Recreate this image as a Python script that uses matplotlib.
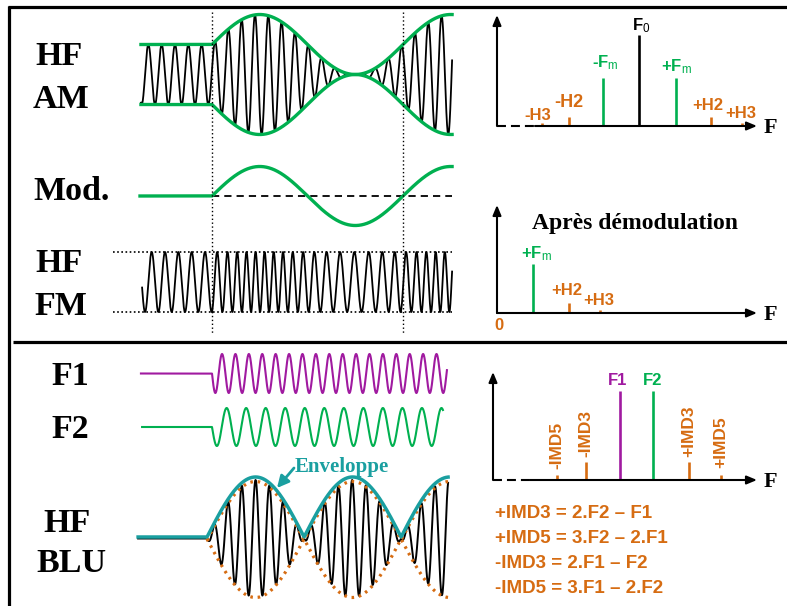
import numpy as np
import matplotlib
matplotlib.use("Agg")
import matplotlib.pyplot as plt

plt.rcParams['mathtext.fontset'] = 'custom'
plt.rcParams['mathtext.rm'] = 'Liberation Sans'
plt.rcParams['mathtext.it'] = 'Liberation Sans:italic'
plt.rcParams['mathtext.bf'] = 'Liberation Sans:bold'

# ---------------- DATA ----------------
# Row labels (left column)
row_labels = ["HF", "AM", "Mod.", "HF", "FM", "F1", "F2", "HF", "BLU"]

# Waveform parameters (time in modulation periods)
carrier_cycles = 14.33      # carrier cycles per modulation period
am_index = 1.0              # AM modulation depth
fm_offset = 0.20            # FM mean frequency shift (relative)
fm_dev = 0.28               # FM deviation (relative)
f1_cycles = 14.25           # tone F1 cycles per period
f2_cycles = 9.78            # tone F2 cycles per period
blu_cycles = 13.84          # BLU carrier cycles per period
blu_lobe = 0.508            # BLU envelope lobe length (periods)
blu_start = -0.026          # BLU signal start
am_t = [-0.372, 1.257]
mod_t = [-0.377, 1.257]
fm_t = [-0.366, 1.257]
fm_guide_t = [-0.518, 1.257]
f1_t = [-0.372, 1.230]
f2_t = [-0.366, 1.209]
blu_t = [-0.387, 1.236]
marker_t = [0.0, 1.0]       # dotted vertical markers

# AM spectrum (frequency in Fm units around F0, amplitude relative to F0)
am_labels = ["-H3", "-H2", "-F$_\\mathrm{m}$", "F$_\\mathrm{0}$", "+F$_\\mathrm{m}$", "+H2", "+H3"]
am_freq = [-2.66, -1.92, -0.99, 0.0, 1.01, 1.97, 2.82]
am_amp = [0.035, 0.10, 0.53, 1.00, 0.53, 0.10, 0.035]

# Spectrum after demodulation (frequency in Fm units)
dm_labels = ["+F$_\\mathrm{m}$", "+H2", "+H3"]
dm_freq = [1.0, 2.0, 2.86]
dm_amp = [0.54, 0.11, 0.033]

# Two-tone (BLU) spectrum (frequency in units of F2-F1, F1 = 0)
imd_labels = ["-IMD5", "-IMD3", "F1", "F2", "+IMD3", "+IMD5"]
imd_freq = [-1.91, -1.03, 0.0, 1.0, 2.09, 3.06]
imd_amp = [0.055, 0.20, 0.98, 0.98, 0.20, 0.055]

equations = ["+IMD3 = 2.F2 \u2013 F1", "+IMD5 = 3.F2 \u2013 2.F1",
             "-IMD3 = 2.F1 \u2013 F2", "-IMD5 = 3.F1 \u2013 2.F2"]

# ---------------- STYLE / LAYOUT ----------------
GREEN = '#00b050'
ORANGE = '#d66c12'
PURPLE = '#a01aa0'
TEAL = '#1a9fa0'
SERIF = 'Liberation Serif'
SANS = 'Liberation Sans'

W, H = 787, 606
fig = plt.figure(figsize=(W / 100, H / 100), dpi=100)
ax = fig.add_axes([0, 0, 1, 1])
ax.set_xlim(0, W)
ax.set_ylim(H, 0)
ax.axis('off')

# frame
ax.plot([8, W], [7, 7], color='k', lw=2.3, solid_capstyle='butt')
ax.plot([9, 9], [6, H], color='k', lw=2.3, solid_capstyle='butt')
ax.plot([13, W], [341.5, 341.5], color='k', lw=2.3, solid_capstyle='butt')

# left labels
label_xy = [(59, 65), (61, 108), (72, 200), (59, 272), (61, 315),
            (70, 385), (70, 438), (67, 532), (71, 572)]
for txt, (x, y) in zip(row_labels, label_xy):
    ax.text(x, y, txt, ha='center', va='baseline', family=SERIF,
            weight='bold', fontsize=24.5, color='k')

# ---------------- WAVEFORMS ----------------
T0_PX, T_PX = 212, 191
axw = fig.add_axes([0, 0, 1, 1])
axw.set_xlim(-T0_PX / T_PX, (W - T0_PX) / T_PX)
axw.set_ylim(H, 0)
axw.axis('off')
axw.patch.set_alpha(0)

N = 5000
# AM
am_c, am_a, am_phase = 74.5, 30.0, 0.0157
t = np.linspace(am_t[0], am_t[1], N)
env = np.where(t < 0, 1.0, 1.0 + am_index * np.sin(2 * np.pi * t))
car = np.cos(2 * np.pi * carrier_cycles * (t - am_phase))
axw.plot(t, am_c - am_a * env * car, color='k', lw=1.3)
axw.plot(t, am_c - am_a * env, color=GREEN, lw=2.4)
axw.plot(t, am_c + am_a * env, color=GREEN, lw=2.4)

# Modulating signal
mod_c, mod_a = 196.0, 29.5
t = np.linspace(mod_t[0], mod_t[1], N)
axw.plot([0, mod_t[1]], [mod_c, mod_c], color='k', lw=1.3, ls=(0, (4, 2.8)))
axw.plot(t, mod_c - mod_a * np.where(t < 0, 0.0, np.sin(2 * np.pi * t)),
         color=GREEN, lw=2.4)

# FM
fm_c, fm_a, fm_tp = 282.0, 30.0, -0.0366
t = np.linspace(fm_t[0], fm_t[1], N)
phi = 2 * np.pi * carrier_cycles * (t - fm_tp)
tp = np.clip(t, 0, None)
phi = phi + 2 * np.pi * carrier_cycles * (fm_offset * tp +
                                          fm_dev * (1 - np.cos(2 * np.pi * tp)) / (2 * np.pi))
axw.plot(t, fm_c - fm_a * np.cos(phi), color='k', lw=1.3)
for yy in (fm_c - fm_a, fm_c + fm_a):
    axw.plot(fm_guide_t, [yy, yy], color='k', lw=1.2, ls=(0, (1, 1.5)))

# markers
for tm in marker_t:
    axw.plot([tm, tm], [12, 333], color='k', lw=1.0, ls=(0, (1, 1.8)))

# F1 / F2
f1_c, f1_a = 373.5, 19.5
t = np.linspace(f1_t[0], f1_t[1], N)
axw.plot(t, f1_c + f1_a * np.where(t < 0, 0, np.sin(2 * np.pi * f1_cycles * t)),
         color=PURPLE, lw=1.5)
f2_c, f2_a = 427.0, 19.0
t = np.linspace(f2_t[0], f2_t[1], N)
axw.plot(t, f2_c + f2_a * np.where(t < 0, 0, np.sin(2 * np.pi * f2_cycles * t)),
         color=GREEN, lw=1.5)

# BLU
blu_c, blu_a = 538.0, 58.5
t = np.linspace(blu_t[0], blu_t[1], N)
u = t - blu_start
s = np.where(u < 0, 0.0, np.abs(np.sin(np.pi * u / blu_lobe)))
car = np.cos(2 * np.pi * blu_cycles * (t - (blu_start + blu_lobe / 2)))
axw.plot(t, blu_c + 0.5 - blu_a * s * car, color='k', lw=1.4)
m = u >= 0
axw.plot(t[m], blu_c - blu_a * s[m] + 2, color=ORANGE, lw=2.3, ls=(0, (0.8, 1.5)))
axw.plot(t[m], blu_c + blu_a * s[m] + 1, color=ORANGE, lw=2.3, ls=(0, (0.8, 1.5)))
axw.plot(t, blu_c - 1 - (blu_a + 1.5) * s, color=TEAL, lw=2.5)

# Enveloppe label
ax.text(295, 472, "Enveloppe", family=SERIF, weight='bold', fontsize=15,
        color=TEAL, ha='left', va='baseline')
ax.annotate('', xy=(277, 488), xytext=(294, 468),
            arrowprops=dict(arrowstyle='-|>,head_length=0.7,head_width=0.35',
                            color=TEAL, lw=2.0, shrinkA=0, shrinkB=0))


# ---------------- SPECTRA ----------------
def panel(x0, x1, ytop, ybot, xref, unit, amp_px, dash_px=None):
    a = fig.add_axes([x0 / W, 1 - ybot / H, (x1 - x0) / W, (ybot - ytop) / H])
    a.set_xlim((x0 - xref) / unit, (x1 - xref) / unit)
    a.set_ylim(0, (ybot - ytop) / amp_px)
    a.axis('off')
    a.patch.set_alpha(0)
    frac = 0.0
    if dash_px is not None:
        frac = (dash_px - x0) / (x1 - x0)
        a.plot([0, frac], [0, 0], transform=a.transAxes, color='k', lw=1.5,
               ls=(0, (4.3, 2.4)), clip_on=False)
    ap = dict(arrowstyle='-|>,head_length=0.6,head_width=0.25', color='k',
              lw=1.5, shrinkA=0, shrinkB=0)
    a.annotate('', xy=(1, 0), xytext=(frac, 0), xycoords='axes fraction',
               arrowprops=ap)
    a.annotate('', xy=(0, 1), xytext=(0, 0), xycoords='axes fraction',
               arrowprops=ap)
    return a


def lines(a, freqs, amps, colors):
    for f, v, c in zip(freqs, amps, colors):
        a.plot([f, f], [0, v], color=c, lw=1.9, solid_capstyle='butt', clip_on=False)


def labels(a, texts, freqs, amps, colors, offs, size=12, rot=0, va='baseline'):
    for txt, f, v, c, (dx, dy) in zip(texts, freqs, amps, colors, offs):
        a.annotate(txt, xy=(f, v), xytext=(dx, dy), textcoords='offset pixels',
                   ha='center', va=va, rotation=rot, color=c, family=SANS,
                   weight='bold', fontsize=size, annotation_clip=False)


AMP_PX = 91
# AM spectrum
a1 = panel(497, 757, 15, 126, 639, 36.5, AMP_PX, dash_px=535)
am_colors = [ORANGE, ORANGE, GREEN, 'k', GREEN, ORANGE, ORANGE]
lines(a1, am_freq, am_amp, am_colors)
am_offs = [(-4, 3), (0, 10), (2, 10), (2.5, 5), (1, 6), (-3, 7), (-1, 5)]
labels(a1, am_labels, am_freq, am_amp, am_colors, am_offs)
a1.texts[3].set_fontsize(13)

# Demodulated spectrum
a2 = panel(497, 757, 205, 313, 497, 36.0, AMP_PX)
dm_colors = [GREEN, ORANGE, ORANGE]
lines(a2, dm_freq, dm_amp, dm_colors)
labels(a2, dm_labels, dm_freq, dm_amp, dm_colors, [(3, 6), (-2, 8), (-1, 5)])
a2.annotate("0", xy=(0, 0), xytext=(2, -17), textcoords='offset pixels',
            ha='center', va='baseline', color=ORANGE, family=SANS,
            weight='bold', fontsize=12, annotation_clip=False)
ax.text(635, 229, "Apr\u00e8s d\u00e9modulation", ha='center', va='baseline',
        family=SERIF, weight='bold', fontsize=17, color='k')

# Two-tone spectrum
a3 = panel(493, 757, 372, 480, 620, 33.0, AMP_PX, dash_px=530)
imd_colors = [ORANGE, ORANGE, PURPLE, GREEN, ORANGE, ORANGE]
lines(a3, imd_freq, imd_amp, imd_colors)
idx_rot = [0, 1, 4, 5]
labels(a3, [imd_labels[i] for i in idx_rot], [imd_freq[i] for i in idx_rot],
       [imd_amp[i] for i in idx_rot], [imd_colors[i] for i in idx_rot],
       [(0, 6), (0, 5), (0, 5), (0, 7)], size=12.5, rot=90, va='bottom')
labels(a3, imd_labels[2:4], imd_freq[2:4], imd_amp[2:4], imd_colors[2:4],
       [(-2, 6), (0, 6)])

# axis "F" labels
for yb in (133, 320, 487):
    ax.text(770, yb, "F", ha='center', va='baseline', family=SERIF,
            weight='bold', fontsize=16, color='k')

# equations
for i, eq in enumerate(equations):
    ax.text(495, 518 + 25 * i, eq, ha='left', va='baseline', family=SANS,
            weight='bold', fontsize=13.5, color=ORANGE)

fig.savefig("out.png", dpi=100)
